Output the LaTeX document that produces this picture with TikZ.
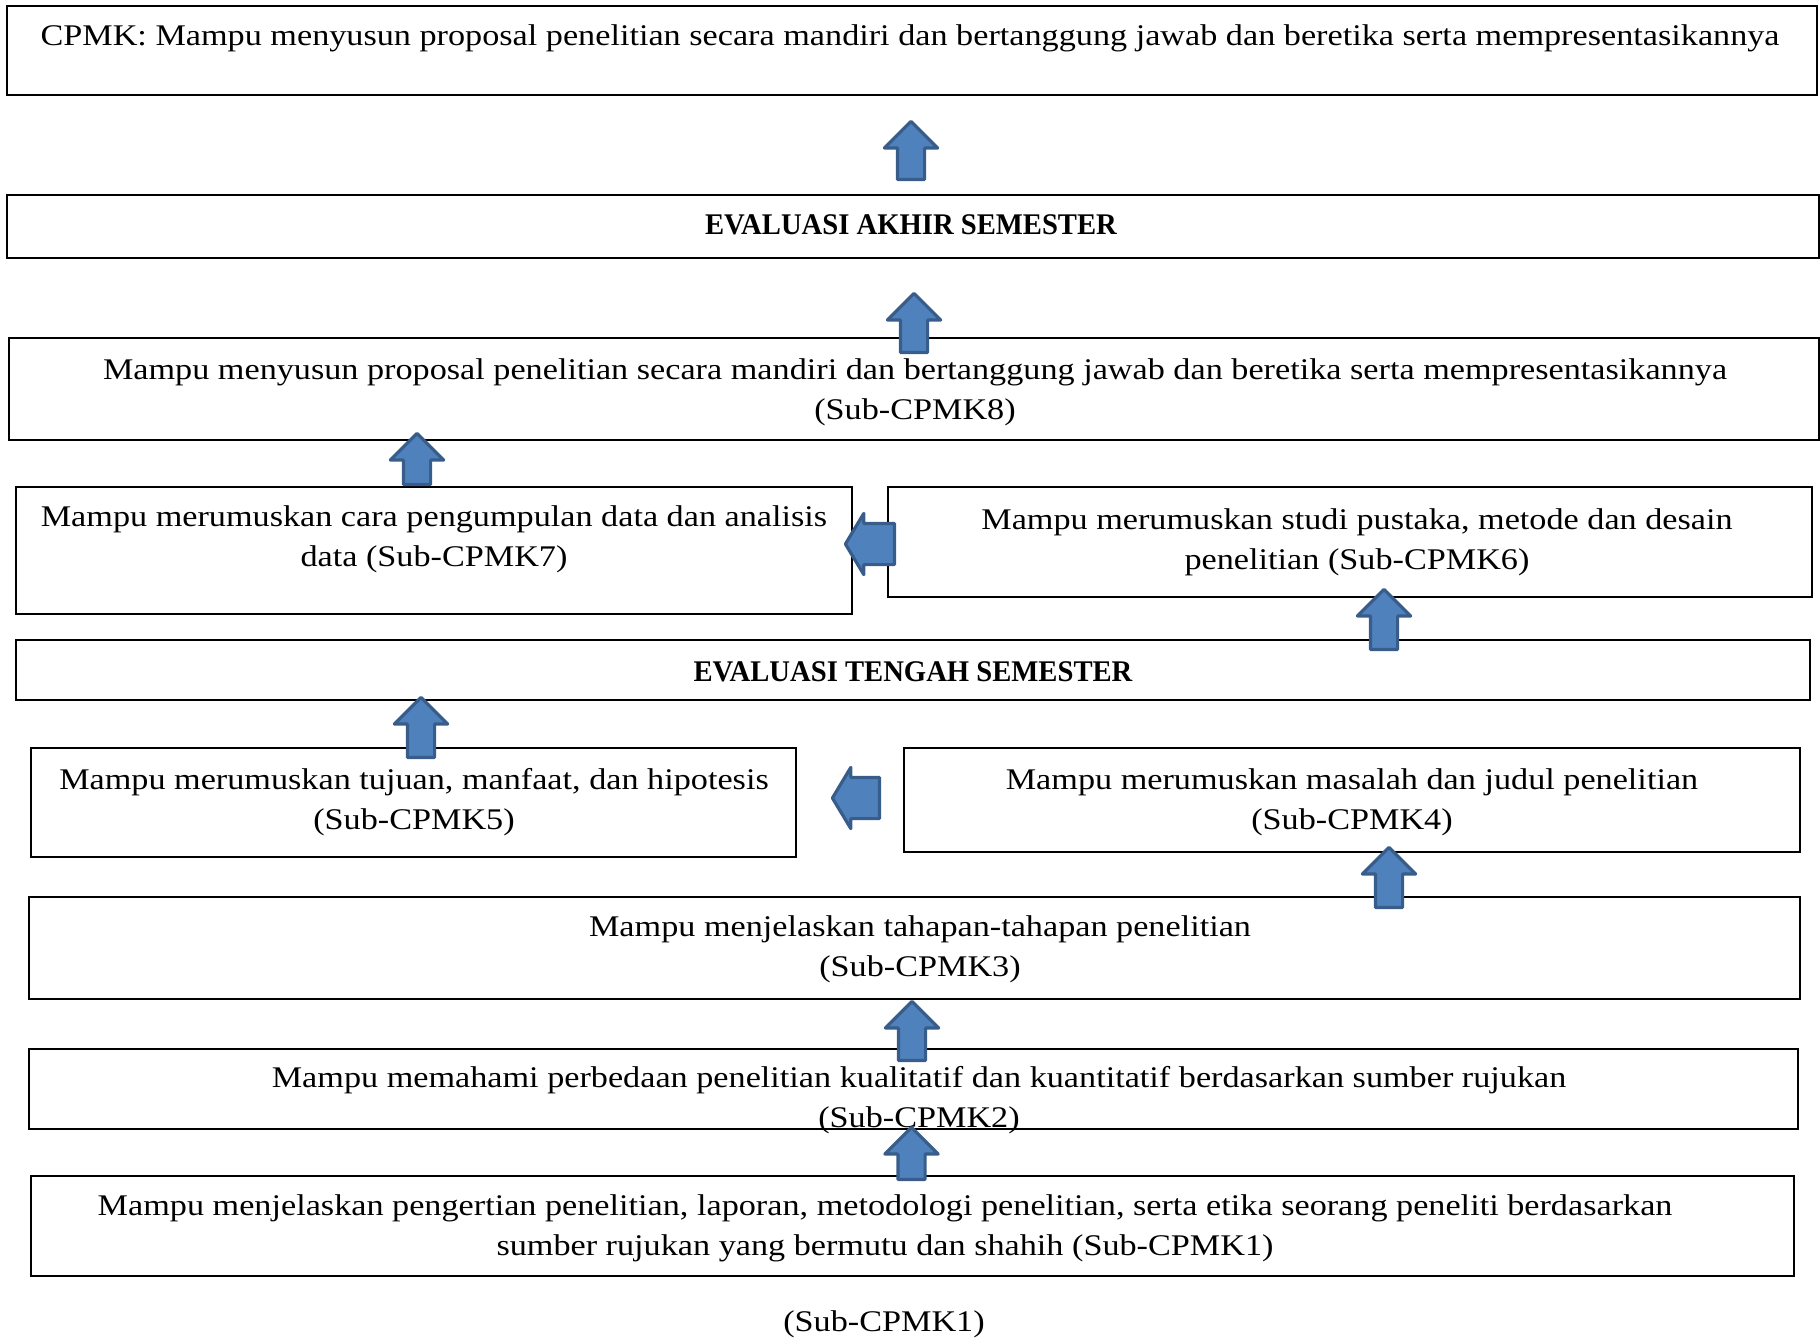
\documentclass[tikz,border=0pt]{standalone}
\usepackage{fontspec}
\setmainfont[FakeStretch=1.14]{Liberation Serif}
\newfontface\evalfont[FakeStretch=0.955]{Liberation Serif Bold}
\usetikzlibrary{shapes.arrows,fit}

\definecolor{arrfill}{HTML}{4F81BD}
\definecolor{arrline}{HTML}{385D8A}

\tikzset{
  box/.style={draw, line width=1pt, inner sep=0pt},
  txt/.style={anchor=base, align=center, inner sep=0pt, font=\fontsize{15pt}{20pt}\selectfont},
  uparr/.style={single arrow, rotate=90, anchor=tail, draw=arrline, fill=arrfill, line width=1.6pt, line join=round,
    inner xsep=0pt, inner ysep=6pt, single arrow head extend=6.5pt, single arrow tip angle=90},
  leftarr/.style={single arrow, rotate=180, anchor=tail, draw=arrline, fill=arrfill, line width=1.6pt, line join=round,
    inner xsep=0pt, inner ysep=9.5pt, single arrow head extend=5pt, single arrow tip angle=118}
}

\begin{document}
\begin{tikzpicture}[x=0.5pt,y=-0.5pt]
\useasboundingbox (0,0) rectangle (1820,1339);

\node[box, fit={(7,6) (1817,95)}] (cpmk) {};
\node[box, fit={(7,195) (1819,258)}] (eas) {};
\node[box, fit={(9,338) (1819,440)}] (sub8) {};
\node[box, fit={(16,487) (852,614)}] (sub7) {};
\node[box, fit={(888,487) (1812,597)}] (sub6) {};
\node[box, fit={(16,640) (1810,700)}] (ets) {};
\node[box, fit={(31,748) (796,857)}] (sub5) {};
\node[box, fit={(904,748) (1800,852)}] (sub4) {};
\node[box, fit={(29,897) (1800,999)}] (sub3) {};
\node[box, fit={(29,1049) (1798,1129)}] (sub2) {};
\node[box, fit={(31,1176) (1794,1276)}] (sub1) {};

\node[txt] (cpmk-t) at (910,45) {CPMK: Mampu menyusun proposal penelitian secara mandiri dan bertanggung jawab dan beretika serta mempresentasikannya};
\node[txt] (eas-t) at (911,234) {\evalfont EVALUASI AKHIR SEMESTER};
\node[txt] (sub8-t) at (915,419) {Mampu menyusun proposal penelitian secara mandiri dan bertanggung jawab dan beretika serta mempresentasikannya\\(Sub-CPMK8)};
\node[txt] (sub7-t) at (434,566) {Mampu merumuskan cara pengumpulan data dan analisis\\data (Sub-CPMK7)};
\node[txt] (sub6-t) at (1357,569) {Mampu merumuskan studi pustaka, metode dan desain\\penelitian (Sub-CPMK6)};
\node[txt] (ets-t) at (913,681) {\evalfont EVALUASI TENGAH SEMESTER};
\node[txt] (sub5-t) at (414,829) {Mampu merumuskan tujuan, manfaat, dan hipotesis\\(Sub-CPMK5)};
\node[txt] (sub4-t) at (1352,829) {Mampu merumuskan masalah dan judul penelitian\\(Sub-CPMK4)};
\node[txt] (sub3-t) at (920,976) {Mampu menjelaskan tahapan-tahapan penelitian\\(Sub-CPMK3)};
\node[txt] (sub2-t) at (919,1127) {Mampu memahami perbedaan penelitian kualitatif dan kuantitatif berdasarkan sumber rujukan\\(Sub-CPMK2)};
\node[txt] (sub1-t) at (885,1255) {Mampu menjelaskan pengertian penelitian, laporan, metodologi penelitian, serta etika seorang peneliti berdasarkan\\sumber rujukan yang bermutu dan shahih (Sub-CPMK1)};
\node[txt] (note) at (884,1331) {(Sub-CPMK1)};

\node[uparr, minimum height=29pt] (up1) at (911,181) {};
\node[uparr, minimum height=29.5pt] (up2) at (914,354) {};
\node[uparr, minimum height=25.5pt] (up3) at (417,486) {};
\node[leftarr, minimum height=24.5pt] (left1) at (896,544) {};
\node[uparr, minimum height=30pt] (up4) at (1384,651) {};
\node[uparr, minimum height=30pt] (up5) at (421,759) {};
\node[leftarr, minimum height=23.5pt] (left2) at (881,798) {};
\node[uparr, minimum height=30pt] (up6) at (1389,909) {};
\node[uparr, minimum height=29.5pt] (up7) at (912,1062) {};
\node[uparr, minimum height=26pt] (up8) at (911.5,1181) {};
\end{tikzpicture}
\end{document}
